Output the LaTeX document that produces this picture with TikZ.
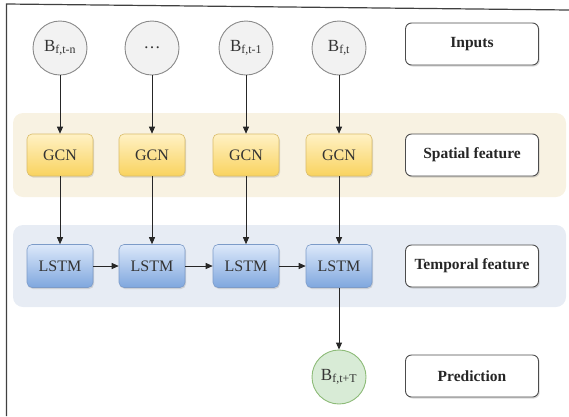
\documentclass[tikz,border=0pt]{standalone}
\usepackage{fontspec}
\setmainfont{Liberation Serif}
\usetikzlibrary{shadows,arrows.meta}
\definecolor{circfill}{HTML}{F2F2F2}
\definecolor{circdraw}{HTML}{8A8A8A}
\definecolor{gcntop}{HTML}{FFF1C4}
\definecolor{gcnbot}{HTML}{F9D35F}
\definecolor{gcndraw}{HTML}{D9BC6A}
\definecolor{lstmtop}{HTML}{DCE8FA}
\definecolor{lstmbot}{HTML}{7FA7DE}
\definecolor{lstmdraw}{HTML}{7C9BC8}
\definecolor{spband}{HTML}{F8F2E2}
\definecolor{tpband}{HTML}{E7ECF4}
\definecolor{predfill}{HTML}{D8EBD6}
\definecolor{preddraw}{HTML}{8DBB78}
\definecolor{txt}{HTML}{333333}
\tikzset{
  inputc/.style={circle, minimum size=54pt, inner sep=0pt, draw=circdraw, fill=circfill, line width=0.9pt, text=txt, font=\fontsize{17}{17}\selectfont},
  gcnbox/.style={rounded corners=5pt, minimum width=66pt, minimum height=42pt, draw=gcndraw, top color=gcntop, bottom color=gcnbot, line width=0.6pt, text=txt, font=\fontsize{16}{16}\selectfont, drop shadow={shadow xshift=1pt, shadow yshift=-1.5pt, opacity=0.25}},
  lstmbox/.style={rounded corners=5pt, minimum width=66pt, minimum height=43pt, draw=lstmdraw, top color=lstmtop, bottom color=lstmbot, line width=0.6pt, text=txt, font=\fontsize{16}{16}\selectfont, drop shadow={shadow xshift=1pt, shadow yshift=-1.5pt, opacity=0.25}},
  labelbox/.style={rounded corners=6pt, minimum width=133pt, minimum height=42pt, draw=black!70, fill=white, line width=0.9pt, font=\bfseries\fontsize{15.5}{15.5}\selectfont, text=black!85, drop shadow={shadow xshift=1.2pt, shadow yshift=-1.5pt, opacity=0.3}},
  band/.style={rounded corners=10pt},
  arr/.style={-{Triangle[length=7pt,width=6pt]}, line width=0.9pt, black!85},
}
\begin{document}
\begin{tikzpicture}[x=1pt,y=-1pt]
\useasboundingbox (0,0) rectangle (569,416);
% frame
\draw[line width=1.2pt, black!75] (6.5,416) -- (6.5,4) -- (569,10);
% bands
\fill[spband, band] (13,113) rectangle (566,197);
\fill[tpband, band] (13,225) rectangle (566,307);
% inputs
\node[inputc] (i1) at (60,48) {B\textsubscript{f,t-n}};
\node[inputc] (i2) at (152,48) {\ldots};
\node[inputc] (i3) at (246,48) {B\textsubscript{f,t-1}};
\node[inputc] (i4) at (339,48) {B\textsubscript{f,t}};
% GCN
\node[gcnbox] (g1) at (60,155) {GCN};
\node[gcnbox] (g2) at (152,155) {GCN};
\node[gcnbox] (g3) at (246,155) {GCN};
\node[gcnbox] (g4) at (339,155) {GCN};
% LSTM
\node[lstmbox] (l1) at (60,266) {LSTM};
\node[lstmbox] (l2) at (152,266) {LSTM};
\node[lstmbox] (l3) at (246,266) {LSTM};
\node[lstmbox] (l4) at (339,266) {LSTM};
% prediction
\node[inputc, draw=preddraw, fill=predfill] (p) at (339,377) {B\textsubscript{f,t+T}};
% labels
\node[labelbox] (la) at (472,44) {Inputs};
\node[labelbox] (lb) at (472,155) {Spatial feature};
\node[labelbox] (lc) at (472,266) {Temporal feature};
\node[labelbox] (ld) at (472,376) {Prediction};
% arrows
\foreach \k in {1,2,3,4}{
  \draw[arr] (i\k) -- (g\k);
  \draw[arr] (g\k) -- (l\k);
}
\draw[arr] (l1) -- (l2);
\draw[arr] (l2) -- (l3);
\draw[arr] (l3) -- (l4);
\draw[arr] (l4) -- (p);
\end{tikzpicture}
\end{document}
